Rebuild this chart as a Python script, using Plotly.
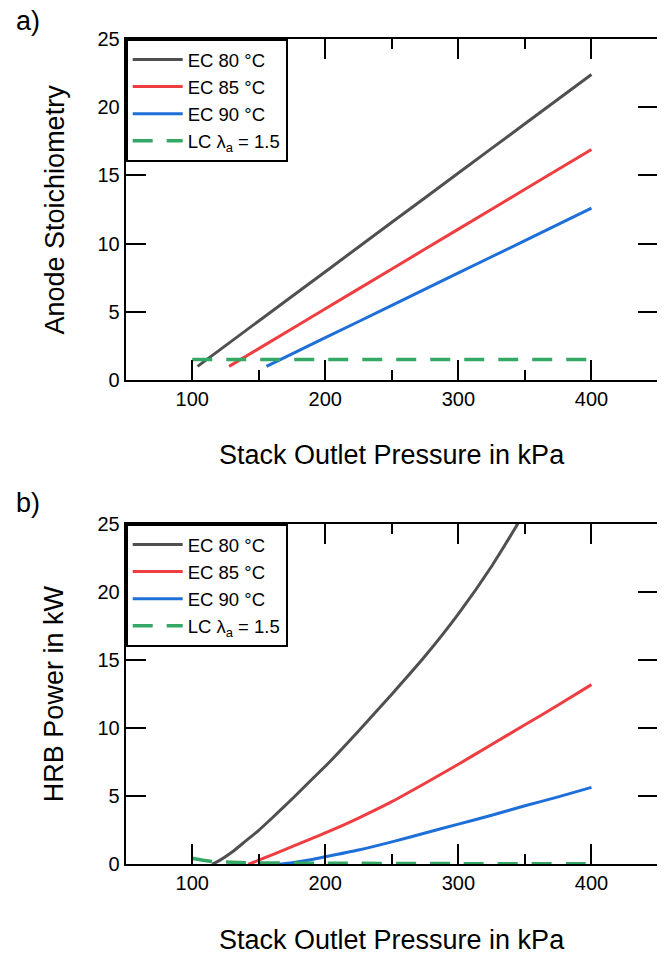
import plotly.graph_objects as go

# ---------------- data ----------------
# a) Anode stoichiometry vs stack outlet pressure
p_a_80 = [104, 150, 200, 250, 300, 350, 400]
stoich_80 = [1.0, 4.33, 7.94, 11.56, 15.17, 18.79, 22.4]
p_a_85 = [127.7, 150, 200, 250, 300, 350, 400]
stoich_85 = [1.0, 2.30, 5.22, 8.14, 11.06, 13.98, 16.9]
p_a_90 = [155.8, 200, 250, 300, 350, 400]
stoich_90 = [1.0, 3.10, 5.47, 7.85, 10.22, 12.6]
p_a_lc = [100, 400]
stoich_lc = [1.5, 1.5]

# b) HRB power vs stack outlet pressure
p_b_80 = [115, 120, 130, 140, 150, 160, 175, 190, 200, 225, 250, 275, 300, 325, 350, 360]
hrb_80 = [0.0, 0.25, 0.9, 1.7, 2.5, 3.4, 4.8, 6.25, 7.2, 9.8, 12.5, 15.3, 18.4, 21.9, 25.9, 27.6]
p_b_85 = [142, 150, 160, 175, 200, 225, 250, 275, 300, 325, 350, 375, 400]
hrb_85 = [0.0, 0.3, 0.7, 1.3, 2.3, 3.4, 4.6, 5.95, 7.35, 8.8, 10.25, 11.7, 13.2]
p_b_90 = [165, 175, 190, 200, 225, 250, 275, 300, 325, 350, 375, 400]
hrb_90 = [0.0, 0.12, 0.35, 0.55, 1.05, 1.65, 2.3, 2.95, 3.6, 4.3, 4.95, 5.65]
p_b_lc = [100, 108, 115, 130, 150, 200, 300, 400]
hrb_lc = [0.45, 0.3, 0.2, 0.15, 0.1, 0.08, 0.05, 0.04]

series_names = ["EC 80 °C", "EC 85 °C", "EC 90 °C", "LC λ<sub>a</sub> = 1.5"]
colors = ["#505050", "#ef3e42", "#1f6fd9", "#34a865"]

x_ticks = [100, 200, 300, 400]
y_ticks = [0, 5, 10, 15, 20, 25]

# ---------------- figure ----------------
# the page body has an 8px margin, so the figure is drawn 8px right/down
OFF = 8
W, H = 665 - OFF, 956 - OFF
FONT = "Liberation Sans, Arial, Helvetica, sans-serif"


def fx(px):
    return (px - OFF) / W


def fy(py):
    return 1 - (py - OFF) / H


fig = go.Figure()

panels = [
    ("x", "y", "legend", [(p_a_80, stoich_80), (p_a_85, stoich_85), (p_a_90, stoich_90), (p_a_lc, stoich_lc)]),
    ("x2", "y2", "legend2", [(p_b_80, hrb_80), (p_b_85, hrb_85), (p_b_90, hrb_90), (p_b_lc, hrb_lc)]),
]
for xa, ya, lg, data in panels:
    for i, (xs, ys) in enumerate(data):
        dash = "20px,14px" if i == 3 else "solid"
        width = 3.5 if i == 3 else 3
        fig.add_trace(go.Scatter(
            x=xs, y=ys, mode="lines", name=series_names[i],
            line=dict(color=colors[i], width=width, dash=dash, shape="spline", smoothing=0.6),
            xaxis=xa, yaxis=ya, legend=lg, showlegend=True,
        ))

xdom = [fx(125.7), fx(658)]
y1dom = [fy(380), fy(39)]
y2dom = [fy(864.3), fy(524)]

axis_common = dict(
    showline=True, linewidth=2, linecolor="black", mirror="allticks",
    ticks="inside", ticklen=20, tickwidth=2, tickcolor="black",
    showgrid=False, zeroline=False, automargin=False,
    tickfont=dict(family=FONT, size=20, color="black"),
)
xaxis_common = dict(axis_common, range=[50, 450], tickmode="array", tickvals=x_ticks,
                    ticktext=[str(v) for v in x_ticks],
                    minor=dict(dtick=50, tick0=0, ticks="inside", ticklen=10, tickwidth=2,
                               tickcolor="black", showgrid=False))
yaxis_common = dict(axis_common, range=[0, 25], tickmode="array", tickvals=y_ticks,
                    ticktext=[str(v) for v in y_ticks])

legend_common = dict(xanchor="left", yanchor="top",
                     bordercolor="black", borderwidth=2, bgcolor="white",
                     font=dict(family=FONT, size=18.5, color="black"),
                     itemwidth=50, tracegroupgap=0)

fig.update_layout(
    template="none",
    width=W, height=H,
    margin=dict(l=0, r=0, t=0, b=0, pad=0, autoexpand=False),
    paper_bgcolor="white", plot_bgcolor="white",
    font=dict(family=FONT, size=20, color="black"),
    xaxis=dict(xaxis_common, domain=xdom, anchor="y"),
    yaxis=dict(yaxis_common, domain=y1dom, anchor="x"),
    xaxis2=dict(xaxis_common, domain=xdom, anchor="y2"),
    yaxis2=dict(yaxis_common, domain=y2dom, anchor="x2"),
    legend=dict(legend_common, x=xdom[0], y=y1dom[1]),
    legend2=dict(legend_common, x=xdom[0], y=y2dom[1]),
)

title_font = dict(family=FONT, size=27, color="black")
annotations = [
    dict(text="a)", x=fx(14), y=fy(21), xanchor="left", yanchor="middle"),
    dict(text="b)", x=fx(14), y=fy(503), xanchor="left", yanchor="middle"),
    dict(text="Stack Outlet Pressure in kPa", x=(xdom[0] + xdom[1]) / 2, y=fy(455),
         xanchor="center", yanchor="middle"),
    dict(text="Stack Outlet Pressure in kPa", x=(xdom[0] + xdom[1]) / 2, y=fy(940),
         xanchor="center", yanchor="middle"),
    dict(text="Anode Stoichiometry", x=fx(54), y=(y1dom[0] + y1dom[1]) / 2, textangle=-90,
         xanchor="center", yanchor="middle"),
    dict(text="HRB Power in kW", x=fx(54), y=(y2dom[0] + y2dom[1]) / 2, textangle=-90,
         xanchor="center", yanchor="middle"),
]
for a in annotations:
    fig.add_annotation(xref="paper", yref="paper", showarrow=False, font=title_font, **a)

fig.write_html("out.html")
